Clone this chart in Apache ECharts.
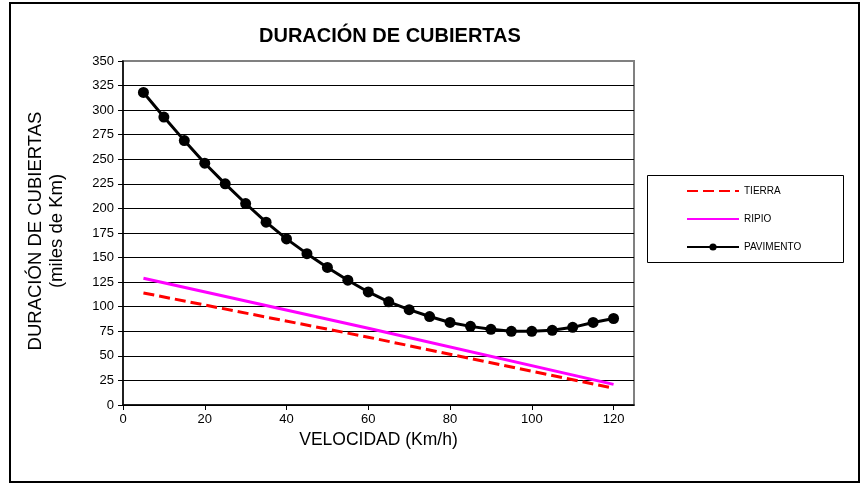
<!DOCTYPE html>
<html>
<head>
<meta charset="utf-8">
<script src="https://cdn.jsdelivr.net/npm/echarts@6/dist/echarts.min.js"></script>
<style>html,body{margin:0;padding:0;background:#fff}#c{width:861px;height:486px}</style>
</head>
<body>
<div id="c"></div>
<script>
var velocidad = [5,10,15,20,25,30,35,40,45,50,55,60,65,70,75,80,85,90,95,100,105,110,115,120];
var pavimento = [318,293,269,246,225,205,186,169,154,140,127,115,105,97,90,84,80,77,75,75,76,79,84,88];
var tierraX = [5,60,120];
var tierra = [114,69,17];
var ripioX = [5,60,120];
var ripio = [129,78,21];
var xTicks = [0,20,40,60,80,100,120];
var yTicks = [0,25,50,75,100,125,150,175,200,225,250,275,300,325,350];

function pairs(xs, ys){ return xs.map(function(x,i){return [x, ys[i]];}); }

var FONT = "'Liberation Sans', Arial, sans-serif";
var gridColors = yTicks.map(function(v){ return v === 350 ? '#808080' : '#000'; });
var chart = echarts.init(document.getElementById('c'), null, {renderer:'canvas'});
chart.setOption({
  backgroundColor:'#fff',
  animation:false,
  textStyle:{fontFamily:FONT, color:'#000'},
  title:{
    text:'DURACIÓN DE CUBIERTAS',
    left:254, top:21,
    textStyle:{fontFamily:FONT, fontSize:20, fontWeight:'bold', color:'#000'}
  },
  grid:{left:123, top:61, width:511, height:344, show:true, borderColor:'#808080', borderWidth:2, backgroundColor:'#fff'},
  xAxis:{
    type:'value', min:0, max:125, interval:20,
    name:'VELOCIDAD (Km/h)', nameLocation:'middle', nameGap:24,
    nameTextStyle:{fontFamily:FONT, fontSize:17.5, color:'#000'},
    axisLine:{show:true, lineStyle:{color:'#000', width:1.5}},
    axisTick:{show:true, length:5, lineStyle:{color:'#000'}},
    axisLabel:{fontFamily:FONT, fontSize:13, color:'#000', margin:8, showMaxLabel:false,
      formatter:function(v){return xTicks.indexOf(v)>=0 ? String(v) : '';}},
    splitLine:{show:false}
  },
  yAxis:{
    type:'value', min:0, max:350, interval:25,
    axisLine:{show:true, lineStyle:{color:'#000', width:1.5}},
    axisTick:{show:true, length:5, lineStyle:{color:'#000'}},
    axisLabel:{fontFamily:FONT, fontSize:13, color:'#000', margin:9,
      formatter:function(v){return yTicks.indexOf(v)>=0 ? String(v) : '';}},
    splitLine:{show:true, lineStyle:{color:gridColors, width:1}}
  },
  legend:{
    orient:'vertical', left:686, top:186, padding:0,
    itemWidth:52, itemHeight:9, itemGap:18,
    lineStyle:{width:2},
    textStyle:{fontFamily:FONT, fontSize:10, color:'#000', padding:[0,0,0,0]},
    data:[
      {name:'TIERRA', itemStyle:{opacity:0, color:'rgba(0,0,0,0)', borderWidth:0}},
      {name:'RIPIO', itemStyle:{opacity:0, color:'rgba(0,0,0,0)', borderWidth:0}},
      {name:'PAVIMENTO'}
    ]
  },
  graphic:[
    {type:'rect', shape:{x:10, y:3, width:849, height:479}, style:{fill:'none', stroke:'#000', lineWidth:2}, z:-10, silent:true},
    {type:'rect', shape:{x:647.5, y:175.5, width:196, height:87}, style:{fill:'#fff', stroke:'#000', lineWidth:1}, z:-1, silent:true},
    {type:'text', x:36, y:231, rotation:Math.PI/2, style:{text:'DURACIÓN DE CUBIERTAS', font:'18.5px '+FONT, fill:'#000', textAlign:'center', textVerticalAlign:'middle'}},
    {type:'text', x:57, y:231, rotation:Math.PI/2, style:{text:'(miles de Km)', font:'18.5px '+FONT, fill:'#000', textAlign:'center', textVerticalAlign:'middle'}}
  ],
  series:[
    {name:'TIERRA', type:'line', data:pairs(tierraX, tierra), symbol:'none', showSymbol:false,
      lineStyle:{color:'#ff0000', width:3, type:[11,5]}, itemStyle:{color:'#ff0000'}, z:3},
    {name:'RIPIO', type:'line', data:pairs(ripioX, ripio), symbol:'none', showSymbol:false,
      lineStyle:{color:'#ff00ff', width:3}, itemStyle:{color:'#ff00ff'}, z:3},
    {name:'PAVIMENTO', type:'line', data:pairs(velocidad, pavimento), symbol:'circle', symbolSize:11,
      lineStyle:{color:'#000', width:3}, itemStyle:{color:'#000'}, z:4}
  ]
});
</script>
</body>
</html>
